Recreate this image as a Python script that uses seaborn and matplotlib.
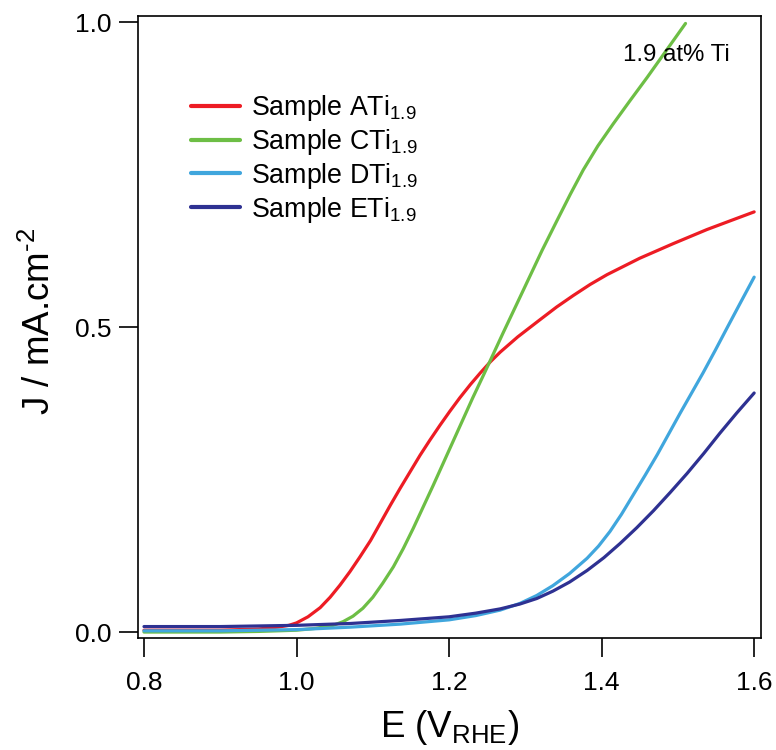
import matplotlib
matplotlib.use("Agg")
import numpy as np
import pandas as pd
import matplotlib.pyplot as plt
import seaborn as sns

# ---- data ----
E_A = [0.80, 0.85, 0.90, 0.95, 0.975, 0.99, 1.00, 1.015, 1.031, 1.044, 1.057, 1.070, 1.083, 1.097,
       1.110, 1.123, 1.136, 1.149, 1.162, 1.175, 1.188, 1.201, 1.214, 1.228, 1.241, 1.254,
       1.267, 1.290, 1.319, 1.341, 1.363, 1.385, 1.407, 1.450, 1.494, 1.538, 1.570, 1.600]
J_A = [0.003, 0.003, 0.003, 0.005, 0.008, 0.011, 0.015, 0.025, 0.040, 0.057, 0.077, 0.099, 0.123, 0.150,
       0.179, 0.208, 0.236, 0.263, 0.290, 0.315, 0.339, 0.362, 0.384, 0.406, 0.425, 0.443,
       0.459, 0.484, 0.512, 0.533, 0.552, 0.570, 0.586, 0.613, 0.637, 0.660, 0.675, 0.689]

E_C = [0.80, 0.90, 0.95, 1.00, 1.025, 1.048, 1.061, 1.074, 1.087, 1.100, 1.113, 1.127, 1.140,
       1.153, 1.166, 1.179, 1.192, 1.205, 1.218, 1.231, 1.245, 1.258, 1.271, 1.285, 1.302,
       1.322, 1.342, 1.359, 1.376, 1.395, 1.415, 1.437, 1.460, 1.485, 1.510]
J_C = [0.000, 0.000, 0.001, 0.003, 0.006, 0.011, 0.017, 0.026, 0.039, 0.057, 0.080, 0.107, 0.137,
       0.170, 0.205, 0.240, 0.276, 0.312, 0.348, 0.384, 0.421, 0.456, 0.491, 0.528, 0.573,
       0.626, 0.676, 0.718, 0.758, 0.797, 0.833, 0.871, 0.910, 0.954, 0.998]

E_D = [0.80, 0.90, 1.00, 1.07, 1.136, 1.20, 1.235, 1.267, 1.293, 1.315, 1.336, 1.358, 1.381,
       1.396, 1.411, 1.426, 1.441, 1.457, 1.473, 1.488, 1.503, 1.518, 1.533, 1.549, 1.565,
       1.582, 1.600]
J_D = [0.002, 0.002, 0.004, 0.008, 0.013, 0.020, 0.027, 0.036, 0.047, 0.060, 0.076, 0.096, 0.121,
       0.141, 0.165, 0.193, 0.224, 0.257, 0.291, 0.325, 0.359, 0.392, 0.425, 0.462, 0.500,
       0.540, 0.582]

E_E = [0.80, 0.90, 1.00, 1.07, 1.136, 1.20, 1.235, 1.267, 1.293, 1.315, 1.336, 1.358, 1.381,
       1.403, 1.424, 1.446, 1.468, 1.490, 1.512, 1.534, 1.555, 1.577, 1.600]
J_E = [0.009, 0.009, 0.011, 0.014, 0.019, 0.025, 0.031, 0.038, 0.046, 0.055, 0.067, 0.082, 0.101,
       0.122, 0.145, 0.171, 0.199, 0.229, 0.260, 0.293, 0.326, 0.359, 0.392]

labels = [r"Sample ATi$_{1.9}$", r"Sample CTi$_{1.9}$", r"Sample DTi$_{1.9}$", r"Sample ETi$_{1.9}$"]
colors = ["#ED1C24", "#6DBE45", "#40A6DD", "#2E3192"]
x_ticks = [0.8, 1.0, 1.2, 1.4, 1.6]
x_ticklabels = ["0.8", "1.0", "1.2", "1.4", "1.6"]
y_ticks = [0.0, 0.5, 1.0]
y_ticklabels = ["0.0", "0.5", "1.0"]
annotation = "1.9 at% Ti"

# ---- style ----
sns.set_style("ticks")
plt.rcParams["font.family"] = ["Liberation Sans", "DejaVu Sans"]
plt.rcParams.update({
    "mathtext.fontset": "custom",
    "mathtext.rm": "Liberation Sans",
    "mathtext.it": "Liberation Sans:italic",
    "mathtext.bf": "Liberation Sans:bold",
    "mathtext.default": "regular",
    "text.color": "black",
    "axes.labelcolor": "black",
    "xtick.color": "black",
    "ytick.color": "black",
    "axes.edgecolor": "black",
})

frames = []
for lab, e, j in zip(labels, [E_A, E_C, E_D, E_E], [J_A, J_C, J_D, J_E]):
    frames.append(pd.DataFrame({"E": e, "J": j, "sample": lab}))
df = pd.concat(frames, ignore_index=True)

fig = plt.figure(figsize=(7.76, 7.5), dpi=100)
ax = fig.add_axes([0.1772, 0.1493, 0.8035, 0.830])

sns.lineplot(data=df, x="E", y="J", hue="sample", hue_order=labels,
             palette=dict(zip(labels, colors)), sort=False, estimator=None,
             linewidth=2.3, ax=ax)

ax.set_xlim(0.7915, 1.609)
ax.set_ylim(-0.0098, 1.011)
ax.set_xticks(x_ticks)
ax.set_xticklabels(x_ticklabels)
ax.set_yticks(y_ticks)
ax.set_yticklabels(y_ticklabels)

for s in ax.spines.values():
    s.set_visible(True)
    s.set_linewidth(1.2)
    s.set_color("black")
ax.tick_params(axis="both", direction="out", length=14, width=1.2, labelsize=19,
               color="black", labelcolor="black")
ax.tick_params(axis="x", pad=10)
ax.tick_params(axis="y", pad=5)

ax.set_xlabel(r"E (V$_{RHE}$)", fontsize=26.5, color="black")
ax.set_ylabel(r"J / mA.cm$^{\text{-2}}$", fontsize=26.5, color="black")
ax.xaxis.set_label_coords(0.5, -0.113)
ax.yaxis.set_label_coords(-0.127, 0.508)

leg = ax.legend(loc="upper left", bbox_to_anchor=(0.085, 0.875), frameon=False, fontsize=19.3,
                handlelength=1.85, handletextpad=0.42, labelspacing=0.14,
                borderpad=0, borderaxespad=0)
for line in leg.get_lines():
    line.set_linewidth(3)
for t in leg.get_texts():
    t.set_color("black")

ax.text(0.779, 0.936, annotation, transform=ax.transAxes, fontsize=17.3, va="center", ha="left",
        color="black")

fig.savefig("out.png", dpi=100)
